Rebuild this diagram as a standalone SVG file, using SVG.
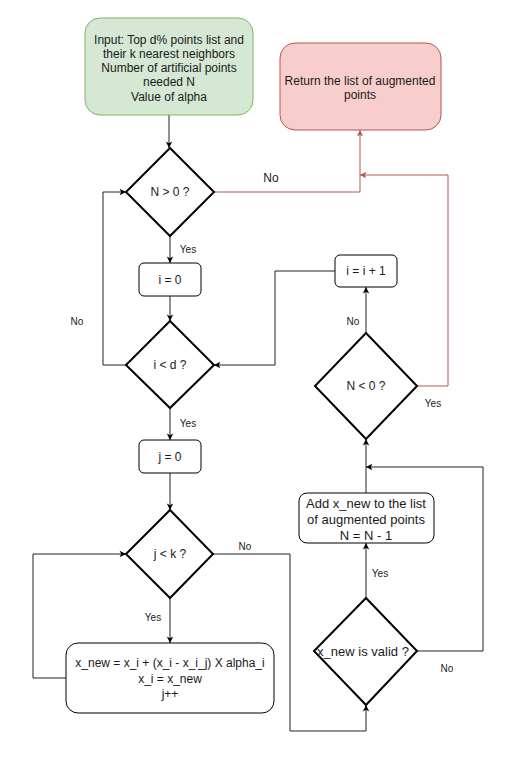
<svg xmlns="http://www.w3.org/2000/svg" width="509" height="766" viewBox="0 0 509 766">
<style>
text{font-family:"Liberation Sans",Arial,sans-serif;fill:#1a1a1a;text-anchor:middle;dominant-baseline:central}
.t12{font-size:12px}
.t13{font-size:13px}
.lbl{font-size:10px}
.box{fill:#fff;stroke:#000;stroke-width:1}
.dia{fill:#fff;stroke:#000;stroke-width:2}
.c{fill:none;stroke:#222;stroke-width:1}
.r{fill:none;stroke:#b85450;stroke-width:1}
</style>
<defs>
<marker id="a" viewBox="0 0 10 10" refX="9" refY="5" markerWidth="8" markerHeight="8" orient="auto" markerUnits="userSpaceOnUse"><path d="M1,1 L9,5 L1,9 L3,5 z" fill="#000"/></marker>
<marker id="ar" viewBox="0 0 10 10" refX="9" refY="5" markerWidth="8" markerHeight="8" orient="auto" markerUnits="userSpaceOnUse"><path d="M1,1 L9,5 L1,9 L3,5 z" fill="#b85450"/></marker>
</defs>
<g id="connectors">
<path class="c" d="M169,115 V148" marker-end="url(#a)"/>
<path class="r" d="M214,192 H360 V130" marker-end="url(#ar)"/>
<path class="r" d="M417,386 H448 V175 H360" marker-end="url(#ar)"/>
<path class="c" d="M170,236 V263" marker-end="url(#a)"/>
<path class="c" d="M170,296 V321" marker-end="url(#a)"/>
<path class="c" d="M126,365 H103 V192 H126" marker-end="url(#a)"/>
<path class="c" d="M170,408 V440" marker-end="url(#a)"/>
<path class="c" d="M170,473 V510" marker-end="url(#a)"/>
<path class="c" d="M170,598 V643" marker-end="url(#a)"/>
<path class="c" d="M66,678 H33 V554 H126" marker-end="url(#a)"/>
<path class="c" d="M213,554 H290 V731 H366 V705" marker-end="url(#a)"/>
<path class="c" d="M366,598 V543" marker-end="url(#a)"/>
<path class="c" d="M417,651 H483 V467 H366" marker-end="url(#a)"/>
<path class="c" d="M366,493 V439" marker-end="url(#a)"/>
<path class="c" d="M366,333 V287" marker-end="url(#a)"/>
<path class="c" d="M335,271 H275 V365 H214" marker-end="url(#a)"/>
<text class="t12" x="271" y="178">No</text>
<text class="lbl" x="188" y="249">Yes</text>
<text class="lbl" x="77" y="321">No</text>
<text class="lbl" x="188" y="423">Yes</text>
<text class="lbl" x="245" y="546">No</text>
<text class="lbl" x="153" y="617">Yes</text>
<text class="lbl" x="353" y="321">No</text>
<text class="lbl" x="433" y="403">Yes</text>
<text class="lbl" x="380" y="573">Yes</text>
<text class="lbl" x="447" y="668">No</text>
</g>
<g id="input">
<rect x="85" y="18" width="168" height="97" rx="15" fill="#d5e8d4" stroke="#82b366"/>
<text class="t12" x="169" y="40">Input: Top d% points list and</text>
<text class="t12" x="169" y="54">their k nearest neighbors</text>
<text class="t12" x="169" y="68">Number of artificial points</text>
<text class="t12" x="169" y="82">needed N</text>
<text class="t12" x="169" y="97">Value of alpha</text>
</g>
<g id="return">
<rect x="280" y="43" width="161" height="87" rx="15" fill="#f8cecc" stroke="#b85450"/>
<text class="t12" x="360" y="81">Return the list of augmented</text>
<text class="t12" x="360" y="95">points</text>
</g>
<g id="n_gt_0">
<path class="dia" d="M170,148 L214,192 L170,236 L126,192 Z"/>
<text class="t12" x="170" y="192">N &gt; 0 ?</text>
</g>
<g id="i_0">
<rect class="box" x="139" y="263" width="62" height="33" rx="5"/>
<text class="t12" x="170" y="280">i = 0</text>
</g>
<g id="i_lt_d">
<path class="dia" d="M170,321 L214,365 L170,408 L126,365 Z"/>
<text class="t12" x="170" y="365">i &lt; d ?</text>
</g>
<g id="j_0">
<rect class="box" x="139" y="440" width="62" height="33" rx="5"/>
<text class="t12" x="170" y="457">j = 0</text>
</g>
<g id="j_lt_k">
<path class="dia" d="M170,510 L213,554 L170,598 L126,554 Z"/>
<text class="t12" x="170" y="554">j &lt; k ?</text>
</g>
<g id="xnew">
<rect class="box" x="66" y="643" width="208" height="70" rx="12"/>
<text class="t12" x="170" y="663">x_new = x_i + (x_i - x_i_j) X alpha_i</text>
<text class="t12" x="170" y="679">x_i = x_new</text>
<text class="t12" x="170" y="694">j++</text>
</g>
<g id="valid">
<path class="dia" d="M366,598 L417,651 L366,705 L314,651 Z"/>
<text class="t13" x="363" y="651">x_new is valid ?</text>
</g>
<g id="add">
<rect class="box" x="299" y="493" width="135" height="50" rx="8"/>
<text class="t13" x="366" y="503">Add x_new to the list</text>
<text class="t13" x="366" y="519">of augmented points</text>
<text class="t13" x="366" y="535">N = N - 1</text>
</g>
<g id="n_lt_0">
<path class="dia" d="M366,333 L417,386 L366,439 L315,386 Z"/>
<text class="t12" x="366" y="386">N &lt; 0 ?</text>
</g>
<g id="inc">
<rect class="box" x="335" y="255" width="62" height="32" rx="5"/>
<text class="t12" x="366" y="271">i = i + 1</text>
</g>
</svg>
